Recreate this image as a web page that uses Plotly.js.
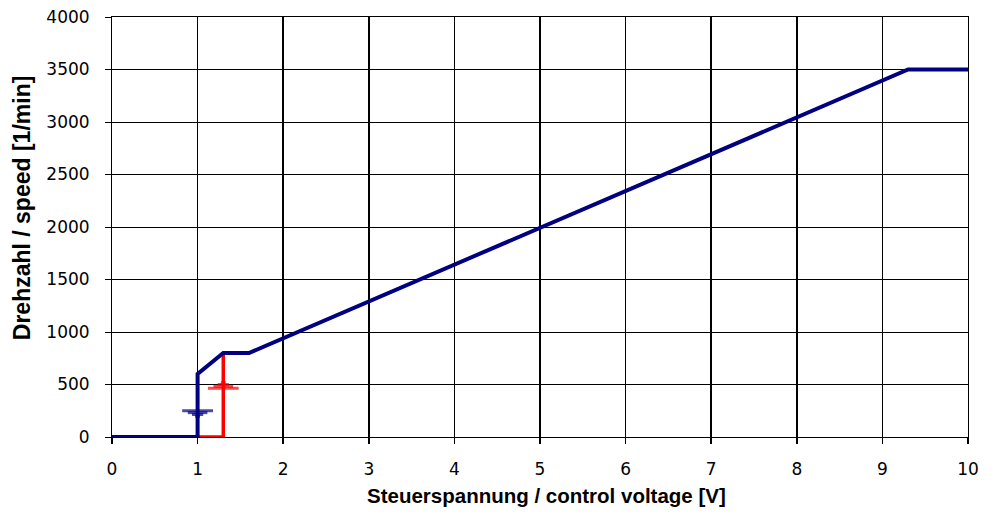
<!DOCTYPE html>
<html>
<head>
<meta charset="utf-8">
<script src="https://cdn.plot.ly/plotly-3.0.1.min.js"></script>
<style>html,body{margin:0;padding:0;background:#fff;}#chart{width:999px;height:514px;}</style>
</head>
<body>
<div id="chart"></div>
<script>
// Speed characteristic (blue)
const speedX = [0, 1, 1, 1.3, 1.6, 9.3, 10];
const speedY = [0, 0, 600, 800, 800, 3500, 3500];
// Start-up hysteresis (red)
const startX = [1, 1.3, 1.3];
const startY = [0, 0, 800];
// Arrowheads: stacked rows (widest row first)
const downArrowX = [1, 1, 1, 1];
const downArrowY = [250, 232, 214, 197];
const upArrowX = [1.3, 1.3, 1.3, 1.3];
const upArrowY = [464, 482, 500, 517];
const arrowRowSizes = [22, 14, 8, 3.5];
const xTicks = [0,1,2,3,4,5,6,7,8,9,10];
const yTicks = [0,500,1000,1500,2000,2500,3000,3500,4000];

const blue = '#000080', red = '#ff0000';
const traces = [
  {x: startX, y: startY, mode: 'lines', line: {color: red, width: 3.5}, hoverinfo: 'skip'},
  {x: speedX, y: speedY, mode: 'lines', line: {color: blue, width: 4}, hoverinfo: 'skip'},
  {x: upArrowX, y: upArrowY, mode: 'markers', marker: {symbol: 'line-ew', size: arrowRowSizes, line: {color: red, width: 3}}, hoverinfo: 'skip'},
  {x: downArrowX, y: downArrowY, mode: 'markers', marker: {symbol: 'line-ew', size: arrowRowSizes, line: {color: blue, width: 3}}, hoverinfo: 'skip'}
];

const tickFam = '"DejaVu Sans", Verdana, sans-serif';
const titleFam = '"Liberation Sans", Arial, sans-serif';
const layout = {
  width: 999, height: 514,
  margin: {l: 112, r: 31, t: 17, b: 77},
  paper_bgcolor: '#ffffff', plot_bgcolor: '#ffffff',
  showlegend: false,
  font: {family: tickFam, size: 17, color: '#000'},
  xaxis: {
    range: [0, 10], tickvals: xTicks, ticktext: xTicks.map(String),
    showgrid: true, gridcolor: '#000', gridwidth: 1.5,
    showline: true, linecolor: '#000', linewidth: 1, mirror: true,
    ticks: 'outside', ticklen: 6, tickcolor: '#000', tickwidth: 1.5,
    ticklabelstandoff: 11, zeroline: false,
    tickfont: {family: tickFam, size: 17, color: '#000'}
  },
  yaxis: {
    range: [0, 4000], tickvals: yTicks, ticktext: yTicks.map(String),
    showgrid: true, gridcolor: '#000', gridwidth: 1,
    showline: true, linecolor: '#000', linewidth: 1, mirror: true,
    ticks: 'outside', ticklen: 6, tickcolor: '#000', tickwidth: 1,
    ticklabelstandoff: 12, zeroline: false,
    tickfont: {family: tickFam, size: 17, color: '#000'}
  },
  annotations: [{
    text: 'Steuerspannung / control voltage [V]',
    xref: 'paper', yref: 'paper', x: 0.508, y: -0.14,
    xanchor: 'center', yanchor: 'middle', showarrow: false,
    font: {family: titleFam, size: 20.5, color: '#000', weight: 'bold'}
  }, {
    text: 'Drehzahl / speed [1/min]', textangle: -90,
    xref: 'paper', yref: 'paper', x: -0.105, y: 0.545,
    xanchor: 'center', yanchor: 'middle', showarrow: false,
    font: {family: titleFam, size: 23, color: '#000', weight: 'bold'}
  }]
};
Plotly.newPlot('chart', traces, layout, {staticPlot: true, displayModeBar: false});
</script>
</body>
</html>
